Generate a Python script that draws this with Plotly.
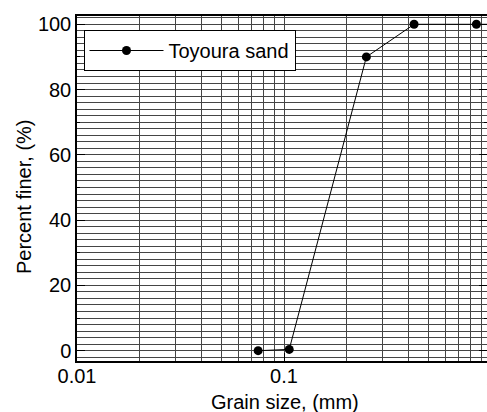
import plotly.graph_objects as go

# Grain size distribution of Toyoura sand
grain_size_mm = [0.075, 0.106, 0.25, 0.425, 0.85, 2.0]
percent_finer = [0.0, 0.4, 90.0, 100.0, 100.0, 100.0]
series_name = "Toyoura sand"

x_tick_vals = [0.01, 0.1]
x_tick_text = ["0.01", "0.1"]
y_major_ticks = [0, 20, 40, 60, 80, 100]
y_mid_ticks = [10, 30, 50, 70, 90]

FONT = "Liberation Sans, Arial, sans-serif"
GRID = "#454545"

W, H = 487, 412
ML, MR, MT, MB = 77, 0, 16, 51
decade_px = 207.0
x_lo = -2.0
x_hi = x_lo + (W - ML - MR) / decade_px
y_lo, y_hi = -3.16, 102.54

fig = go.Figure()
fig.add_trace(go.Scatter(
    x=grain_size_mm, y=percent_finer, name=series_name,
    mode="lines+markers",
    line=dict(color="black", width=1),
    marker=dict(color="black", size=9, symbol="circle"),
    cliponaxis=True,
))
# empty traces bind the tick-only overlay axes
fig.add_trace(go.Scatter(x=[], y=[], yaxis="y2", showlegend=False, hoverinfo="skip"))
fig.add_trace(go.Scatter(x=[], y=[], yaxis="y3", showlegend=False, hoverinfo="skip"))

fig.update_layout(
    width=W, height=H,
    margin=dict(l=ML, r=MR, t=MT, b=MB, pad=0),
    paper_bgcolor="white", plot_bgcolor="white",
    font=dict(family=FONT, size=20, color="black"),
    showlegend=True,
    legend=dict(
        x=(83.5 - ML) / (W - ML - MR), y=(H - MB - 30) / (H - MB - MT),
        xanchor="left", yanchor="top",
        bgcolor="white", bordercolor="black", borderwidth=1,
        font=dict(family=FONT, size=20, color="black"),
        itemwidth=74,
    ),
    xaxis=dict(
        type="log", range=[x_lo, x_hi],
        tickmode="array", tickvals=x_tick_vals, ticktext=x_tick_text,
        ticks="inside", ticklen=8, tickcolor="black", tickwidth=1,
        showline=True, linecolor="black", linewidth=1.5, mirror=True,
        showgrid=True, gridcolor=GRID, gridwidth=1,
        minor=dict(dtick="D1", showgrid=True, gridcolor=GRID, gridwidth=1, ticks=""),
        zeroline=False,
        tickfont=dict(family=FONT, size=20),
        ticklabelstandoff=-4,
    ),
    yaxis=dict(
        range=[y_lo, y_hi],
        tickmode="array", tickvals=y_major_ticks,
        ticks="inside", ticklen=8, tickcolor="black", tickwidth=1,
        showline=True, linecolor="black", linewidth=1.5, mirror=False,
        showgrid=True, gridcolor=GRID, gridwidth=1,
        minor=dict(dtick=2, showgrid=True, gridcolor=GRID, gridwidth=1, ticks=""),
        zeroline=False,
        tickfont=dict(family=FONT, size=20),
        ticklabelstandoff=0,
    ),
    yaxis2=dict(
        overlaying="y", side="left", range=[y_lo, y_hi],
        tickmode="array", tickvals=y_mid_ticks,
        ticks="inside", ticklen=3, tickcolor="black",
        showticklabels=False, showgrid=False, showline=False, zeroline=False,
    ),
    yaxis3=dict(
        overlaying="y", side="right", range=[y_lo, y_hi],
        tickmode="array", tickvals=y_major_ticks,
        ticks="inside", ticklen=8, tickcolor="black",
        minor=dict(tickvals=y_mid_ticks, ticks="inside", ticklen=3, tickcolor="black"),
        showticklabels=False, showgrid=False, showline=False, zeroline=False,
    ),
)

plot_w = W - ML - MR
plot_h = H - MT - MB
# decade label at 1 mm, just past the right edge of the plotting area
fig.add_annotation(
    text="1", xref="paper", yref="paper",
    x=(2 * decade_px) / plot_w, y=0, yshift=-4,
    xanchor="center", yanchor="top", showarrow=False,
    font=dict(family=FONT, size=20),
)
fig.add_annotation(
    text="Grain size, (mm)", xref="paper", yref="paper",
    x=(285 - ML) / plot_w, y=(H - MB - 401.5) / plot_h,
    xanchor="center", yanchor="middle", showarrow=False,
    font=dict(family=FONT, size=20),
)
fig.add_annotation(
    text="Percent finer, (%)", xref="paper", yref="paper",
    x=(24 - ML) / plot_w, y=(H - MB - 197) / plot_h, textangle=-90,
    xanchor="center", yanchor="middle", showarrow=False,
    font=dict(family=FONT, size=20),
)

fig.write_html("out.html")
